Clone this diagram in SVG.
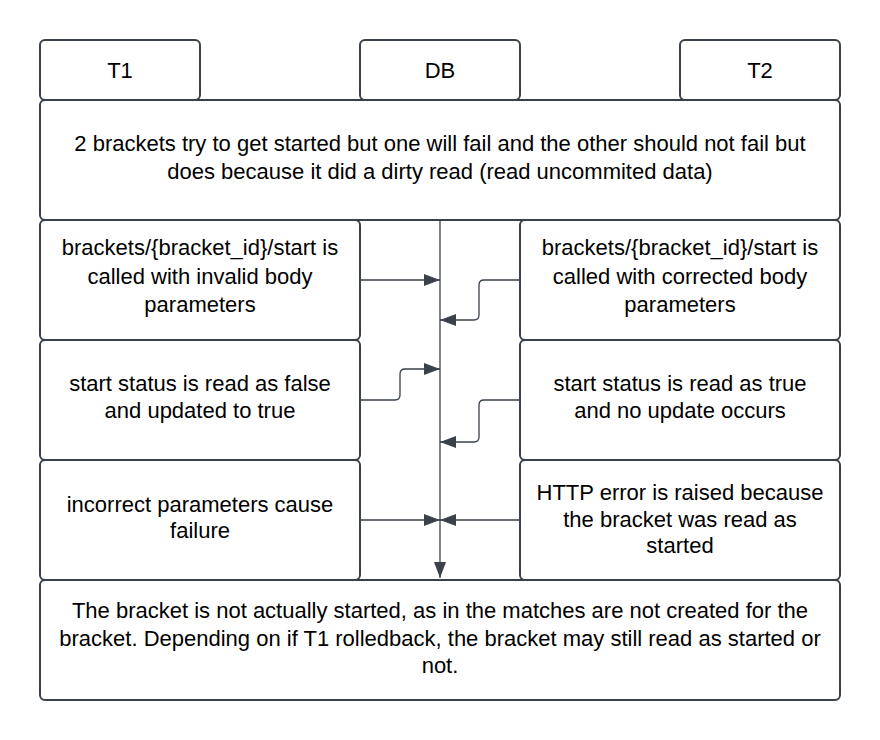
<svg xmlns="http://www.w3.org/2000/svg" width="880" height="740" viewBox="0 0 880 740">
<style>
.box{fill:#fff;stroke:#3a414a;stroke-width:2}
.t{font-family:"Liberation Sans",Arial,sans-serif;font-size:22px;fill:#000;text-anchor:middle}
.c{fill:none;stroke:#3a414a;stroke-width:1.3}
</style>
<defs>
<marker id="a" viewBox="0 0 16 12" refX="16" refY="6" markerWidth="16" markerHeight="12" markerUnits="userSpaceOnUse" orient="auto">
<path d="M0,0 L16,6 L0,12 Z" fill="#3a414a"/>
</marker>
</defs>
<rect width="880" height="740" fill="#fff"/>
<g id="T1"><rect class="box" x="40" y="40" width="160" height="60" rx="5"/><text class="t" x="120" y="78">T1</text></g>
<g id="DB"><rect class="box" x="360" y="40" width="160" height="60" rx="5"/><text class="t" x="440" y="78">DB</text></g>
<g id="T2"><rect class="box" x="680" y="40" width="160" height="60" rx="5"/><text class="t" x="760" y="78">T2</text></g>
<g id="header"><rect class="box" x="40" y="100" width="800" height="120" rx="5"/>
<text class="t" x="440" y="151">2 brackets try to get started but one will fail and the other should not fail but</text>
<text class="t" x="440" y="179">does because it did a dirty read (read uncommited data)</text></g>
<g id="L1"><rect class="box" x="40" y="220" width="320" height="120" rx="5"/>
<text class="t" x="200" y="255">brackets/{bracket_id}/start is</text>
<text class="t" x="200" y="284">called with invalid body</text>
<text class="t" x="200" y="312">parameters</text></g>
<g id="R1"><rect class="box" x="520" y="220" width="320" height="120" rx="5"/>
<text class="t" x="680" y="255">brackets/{bracket_id}/start is</text>
<text class="t" x="680" y="284">called with corrected body</text>
<text class="t" x="680" y="312">parameters</text></g>
<g id="L2"><rect class="box" x="40" y="340" width="320" height="120" rx="5"/>
<text class="t" x="200" y="391">start status is read as false</text>
<text class="t" x="200" y="418">and updated to true</text></g>
<g id="R2"><rect class="box" x="520" y="340" width="320" height="120" rx="5"/>
<text class="t" x="680" y="391">start status is read as true</text>
<text class="t" x="680" y="418">and no update occurs</text></g>
<g id="L3"><rect class="box" x="40" y="460" width="320" height="120" rx="5"/>
<text class="t" x="200" y="512">incorrect parameters cause</text>
<text class="t" x="200" y="538">failure</text></g>
<g id="R3"><rect class="box" x="520" y="460" width="320" height="120" rx="5"/>
<text class="t" x="680" y="500">HTTP error is raised because</text>
<text class="t" x="680" y="527">the bracket was read as</text>
<text class="t" x="680" y="553">started</text></g>
<g id="footer"><rect class="box" x="40" y="580" width="800" height="120" rx="5"/>
<text class="t" x="440" y="618">The bracket is not actually started, as in the matches are not created for the</text>
<text class="t" x="440" y="646">bracket. Depending on if T1 rolledback, the bracket may still read as started or</text>
<text class="t" x="440" y="673">not.</text></g>
<g id="connectors">
<path class="c" d="M440,220 V578" marker-end="url(#a)"/>
<path class="c" d="M360,280 H440" marker-end="url(#a)"/>
<path class="c" d="M520,280 H484 Q479,280 479,285 V315 Q479,320 474,320 H440" marker-end="url(#a)"/>
<path class="c" d="M360,400 H395 Q400,400 400,395 V374 Q400,369 405,369 H440" marker-end="url(#a)"/>
<path class="c" d="M520,400 H484 Q479,400 479,405 V437 Q479,442 474,442 H440" marker-end="url(#a)"/>
<path class="c" d="M360,520 H440" marker-end="url(#a)"/>
<path class="c" d="M520,520 H440" marker-end="url(#a)"/>
</g>
</svg>
